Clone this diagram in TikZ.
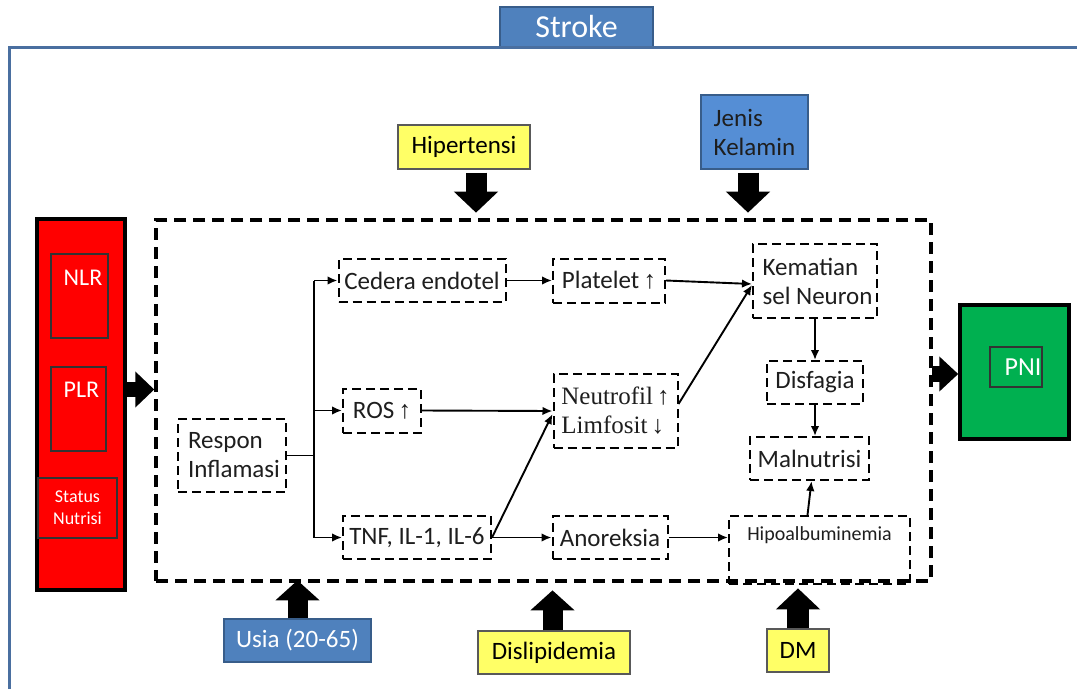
\documentclass[tikz,border=0pt]{standalone}
\usepackage{fontspec}
\setmainfont{Carlito}
\newfontfamily\serifnt{Liberation Serif}
\newfontfamily\arrowfnt{Liberation Sans}
\usetikzlibrary{arrows.meta,calc}
\newcommand\uparr{{\arrowfnt ↑}}
\definecolor{strokeblue}{RGB}{79,129,189}
\definecolor{strokeedge}{RGB}{56,93,138}
\definecolor{framecol}{RGB}{74,111,160}
\definecolor{jkblue}{RGB}{85,142,213}
\definecolor{yel}{RGB}{255,255,102}
\definecolor{pnigreen}{RGB}{0,176,80}
\definecolor{txt}{RGB}{30,30,30}
\tikzset{
  f25/.style={font=\fontsize{25}{29}\selectfont},
  dbox/.style={draw, dash pattern=on 9pt off 5pt, line width=2pt, inner sep=1pt, f25, text=txt},
  conn/.style={line width=1.9pt, -{Latex[length=10pt,width=8.5pt]}},
  plain/.style={line width=1.9pt},
  keybox/.style={draw=#1, line width=1.3pt, inner sep=1pt, f25},
  redsub/.style={draw=black!80, line width=1.2pt, fill=red, inner sep=0pt},
  whitetxt/.style={text=white, inner sep=0pt},
  blk/.style n args={3}{line width=#1, -{Triangle[length=#2,width=#3]}, black},
}
\begin{document}
\begin{tikzpicture}[x=1pt,y=-1pt]
\useasboundingbox[fill=white] (0,0) rectangle (1077,689);

% outer frame and title tab
\node[draw=strokeedge, fill=strokeblue, line width=2pt, minimum width=153pt, minimum height=40pt, inner sep=0pt,
      text=white, font=\fontsize{32}{36}\selectfont] (stroke) at (576.5,27) {Stroke};
\draw[framecol, line width=3pt] (9,689) -- (9,47.5) -- (1077,47.5);

% big dashed frame
\node[draw, dash pattern=on 12pt off 7pt, line width=3.5pt, minimum width=775pt, minimum height=361pt, inner sep=0pt] (frame) at (543.5,400.5) {};

% left red column
\node[draw, fill=red, line width=3.5pt, minimum width=88pt, minimum height=371pt, inner sep=0pt] (col) at (81,404.5) {};
\node[redsub, minimum width=57pt, minimum height=84pt] (nlr) at (79.5,296) {};
\node[whitetxt, font=\fontsize{24}{27}\selectfont] (nlrt) at ($(nlr.north)+(3.5,24)$) {NLR};
\node[redsub, minimum width=55pt, minimum height=84pt] (plr) at (78.5,409) {};
\node[whitetxt, font=\fontsize{24}{27}\selectfont] (plrt) at ($(plr.north)+(3,23)$) {PLR};
\node[redsub, minimum width=79pt, minimum height=60pt, text=white, align=center, font=\fontsize{18}{22}\selectfont] (stn) at (77.5,508) {Status\\Nutrisi};

% right green box
\node[draw, fill=pnigreen, line width=3.5pt, minimum width=109pt, minimum height=134pt, inner sep=0pt] (pnibox) at (1014.5,372) {};
\node[draw=black!80, line width=1.2pt, minimum width=52pt, minimum height=40pt, inner sep=0pt] (pniin) at (1016,367) {};
\node[whitetxt, font=\fontsize{26}{30}\selectfont] (pnit) at ($(pniin.center)+(7,0)$) {PNI};

% factor boxes
\node[keybox=black!65, fill=yel, minimum width=132pt, minimum height=44pt, text=black] (hyp) at (464,147) {Hipertensi};
\node[keybox=strokeedge, fill=jkblue, minimum width=107pt, minimum height=74pt, align=left, text=txt] (jk) at (754.5,132) {Jenis\\Kelamin};
\node[keybox=strokeedge, fill=strokeblue, minimum width=147pt, minimum height=43pt, text=white] (usia) at (297.5,640.5) {Usia (20-65)};
\node[keybox=black!65, fill=yel, minimum width=152pt, minimum height=43pt, text=black] (dsl) at (554,652.5) {Dislipidemia};
\node[keybox=black!65, fill=yel, minimum width=62pt, minimum height=43pt, text=black] (dm) at (798,650.5) {DM};

% process nodes
\node[dbox, minimum width=167pt, minimum height=43pt] (ced) at (422,280.5) {Cedera endotel};
\node[dbox, minimum width=112pt, minimum height=44pt] (pla) at (609,280.5) {Platelet\,\uparr};
\node[dbox, minimum width=124pt, minimum height=74pt, align=left] (kem) at (815,281) {\hspace*{5pt}Kematian\\\hspace*{5pt}sel Neuron};
\node[dbox, minimum width=78pt, minimum height=44pt] (ros) at (382,410.5) {ROS\,\uparr};
\node[dbox, minimum width=124pt, minimum height=74pt, align=left, font=\serifnt\fontsize{25}{29}\selectfont] (neu) at (615.5,411) {Neutrofil\,↑\\Limfosit\,↓};
\node[dbox, minimum width=96pt, minimum height=43pt] (dis) at (815,382.5) {Disfagia};
\node[dbox, minimum width=119pt, minimum height=43pt] (mal) at (809.5,458.5) {Malnutrisi};
\node[dbox, minimum width=108pt, minimum height=73pt, align=left] (res) at (232,455.5) {\hspace*{4pt}Respon\\\hspace*{4pt}Inflamasi};
\node[dbox, minimum width=148pt, minimum height=43pt] (tnf) at (417,537.5) {TNF, IL-1, IL-6};
\node[dbox, minimum width=115pt, minimum height=43pt] (ano) at (610,537.5) {Anoreksia};
\node[dbox, minimum width=181pt, minimum height=68pt] (hip) at (819.5,550) {};
\node[inner sep=0pt, text=txt, font=\fontsize{20}{24}\selectfont] (hipt) at ($(hip.north)+(0,20)$) {Hipoalbuminemia};

% connectors
\coordinate (j) at (314,455.5);
\draw[plain] (res.east) -- (j);
\draw[plain] (j |- ced.west) -- (j |- tnf.west);
\draw[conn] (j |- ced.west) -- (ced.west);
\draw[conn] (j |- ros.west) -- (ros.west);
\draw[conn] (j |- tnf.west) -- (tnf.west);
\draw[conn] (ced.east) -- (pla.west);
\draw[conn] (pla.east) -- ($(kem.west)+(0,3)$);
\draw[conn] (ros.east) -- (neu.west);
\draw[conn] (tnf.east) -- ($(neu.west)+(0,3)$);
\draw[conn] ($(neu.east)+(0,-7)$) -- ($(kem.west)+(0,4)$);
\draw[conn] (tnf.east) -- (ano.west);
\draw[conn] (ano.east) -- (hip.west |- ano.east);
\draw[conn] (kem.south) -- (dis.north);
\draw[conn] (dis.south) -- (dis.south |- mal.north);
\draw[conn] ($(hip.north)+(-12,0)$) -- ($(mal.south)+(2,0)$);

% block arrows
\coordinate (cl) at (0,389.5);
\coordinate (cr) at (0,374);
\draw[blk={15pt}{19pt}{35pt}] (col.east |- cl) -- (frame.west |- cl);
\draw[blk={16pt}{19pt}{34pt}] ($(frame.east |- cr)+(-1,0)$) -- (pnibox.west |- cr);
\draw[blk={21pt}{21pt}{43pt}] ($(hyp.south)+(12,3)$) -- ++(0,40);
\draw[blk={21pt}{21pt}{43pt}] ($(jk.south)+(-6.5,3)$) -- ++(0,40);
\draw[blk={20pt}{20pt}{43pt}] (usia.north) -- ++(0,-38);
\draw[blk={20pt}{20pt}{43pt}] ($(dsl.north)+(-1.5,0)$) -- ++(0,-40);
\draw[blk={22pt}{21pt}{43pt}] (dm.north) -- ++(0,-40);
\end{tikzpicture}
\end{document}
